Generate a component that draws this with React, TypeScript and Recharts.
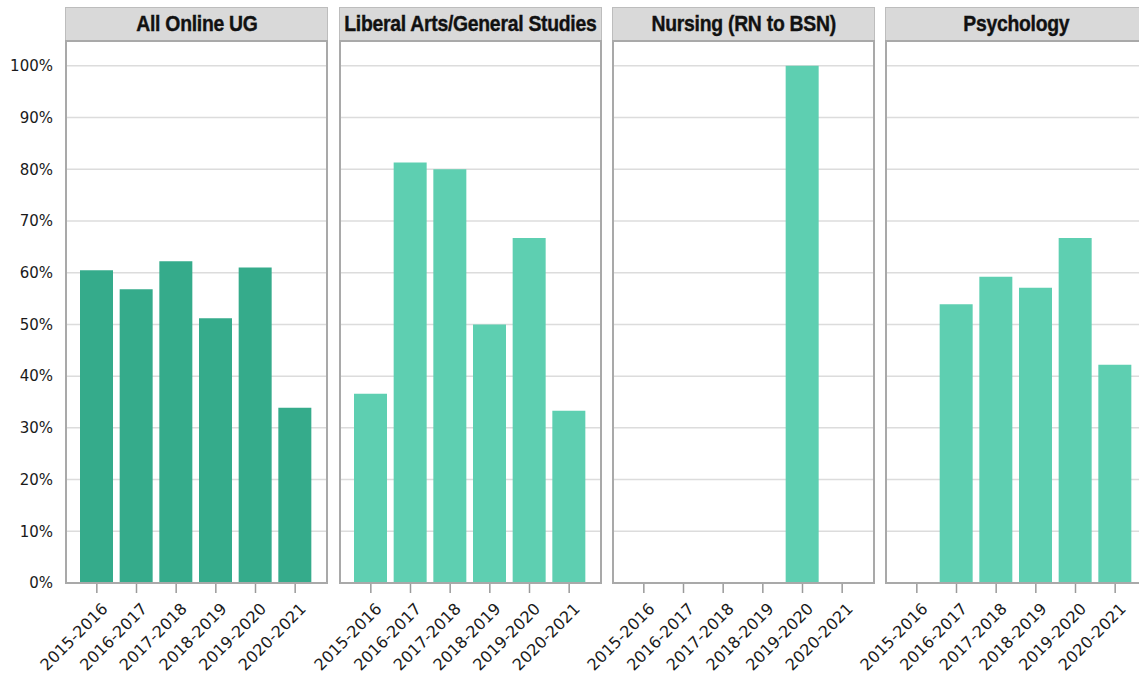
import React from "react";
import { BarChart, Bar, XAxis, YAxis, CartesianGrid } from "recharts";

const years = ["2015-2016", "2016-2017", "2017-2018", "2018-2019", "2019-2020", "2020-2021"];

const allOnlineUG = [0.605, 0.568, 0.622, 0.512, 0.61, 0.339];
const liberalArts = [0.366, 0.813, 0.8, 0.5, 0.667, 0.333];
const nursing = [null, null, null, null, 1.0, null];
const psychology = [null, 0.539, 0.592, 0.571, 0.667, 0.422];

const yTicks = [0, 0.1, 0.2, 0.3, 0.4, 0.5, 0.6, 0.7, 0.8, 0.9, 1.0];

const panels = [
  { title: "All Online UG", values: allOnlineUG, color: "#35ab8b" },
  { title: "Liberal Arts/General Studies", values: liberalArts, color: "#5ecfb1" },
  { title: "Nursing (RN to BSN)", values: nursing, color: "#5ecfb1" },
  { title: "Psychology", values: psychology, color: "#5ecfb1" },
];

const PANEL_LEFTS = [65, 339, 612, 885];
const PANEL_W = 263;
const PLOT_TOP = 40;
const PLOT_H = 543;
const AXIS_W = 65;
const XAXIS_H = 98;

const tickFont = '"DejaVu Sans", sans-serif';

function XTick(props: any) {
  const { x, y, payload } = props;
  return (
    <g transform={`translate(${x + 9},${y + 12})`}>
      <text
        transform="rotate(-45)"
        textAnchor="end"
        fontFamily={tickFont}
        fontSize={16}
        fill="#1a1a1a"
        dy={4}
      >
        {payload.value}
      </text>
    </g>
  );
}

function Panel({ idx }: { idx: number }) {
  const p = panels[idx];
  const data = years.map((yr, i) => ({ year: yr, value: p.values[i] }));
  const first = idx === 0;
  const left = PANEL_LEFTS[idx];

  return (
    <>
      <div
        style={{
          position: "absolute",
          left,
          top: 7,
          width: PANEL_W,
          height: PLOT_TOP - 7,
          boxSizing: "border-box",
          background: "#d9d9d9",
          border: "1.5px solid #bdbdbd",
          borderBottom: "none",
          display: "flex",
          alignItems: "center",
          justifyContent: "center",
          whiteSpace: "nowrap",
          overflow: "hidden",
        }}
      >
        <span
          style={{
            display: "inline-block",
            fontFamily: '"Liberation Sans", Arial, sans-serif',
            fontWeight: 700,
            fontSize: 22,
            color: "#111",
            transform: "scaleX(0.88)",
            letterSpacing: -0.3,
            WebkitTextStroke: "0.4px #111",
          }}
        >
          {p.title}
        </span>
      </div>
      <div style={{ position: "absolute", left: left - AXIS_W, top: PLOT_TOP }}>
        <BarChart
          width={PANEL_W + AXIS_W}
          height={PLOT_H + XAXIS_H}
          data={data}
          margin={{ top: 0, right: 0, left: first ? 0 : AXIS_W, bottom: 0 }}
        >
          <CartesianGrid vertical={false} stroke="#dcdcdc" strokeWidth={1.5} />
          <XAxis
            dataKey="year"
            height={XAXIS_H}
            axisLine={false}
            tickLine={{ stroke: "#9a9a9a", strokeWidth: 1.5 }}
            tickSize={10}
            tick={<XTick />}
            interval={0}
            padding={{ left: 12, right: 13 }}
          />
          <YAxis
            hide={!first}
            width={AXIS_W}
            domain={[0, 1.05]}
            ticks={yTicks}
            allowDataOverflow
            axisLine={false}
            tickLine={false}
            tickSize={10}
            tickFormatter={(v: number) => `${Math.round(v * 100)}%`}
            tick={{ fontFamily: tickFont, fontSize: 15, fill: "#1a1a1a" }}
          />
          <Bar dataKey="value" fill={p.color} barSize={33} isAnimationActive={false} />
        </BarChart>
      </div>
      <div
        style={{
          position: "absolute",
          left,
          top: PLOT_TOP,
          width: PANEL_W,
          height: PLOT_H + 1,
          boxSizing: "border-box",
          border: "2px solid #a9a9a9",
          pointerEvents: "none",
        }}
      />
    </>
  );
}

export default function App() {
  return (
    <div
      style={{
        position: "absolute",
        left: 0,
        top: 0,
        width: 1139,
        height: 681,
        overflow: "hidden",
        background: "#fff",
      }}
    >
      {panels.map((_, i) => (
        <Panel key={i} idx={i} />
      ))}
    </div>
  );
}
